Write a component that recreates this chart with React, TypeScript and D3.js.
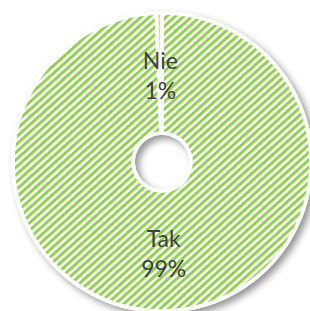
import React from "react";
import * as d3 from "d3";

const categories = ["Tak", "Nie"];
const values = [99.4, 0.6];
const labels = ["99%", "1%"];
const fills = ["url(#stripeGreen)", "url(#stripeOrange)"];

const W = 310;
const H = 311;
const cx = 162;
const cy = 162;
const outerR = 149;
const innerR = 29;

export default function App() {
  const pie = d3.pie<number>().sort(null).value((d) => d)(values);
  const arc = d3.arc<d3.PieArcDatum<number>>().innerRadius(innerR).outerRadius(outerR);
  const labelArc = d3
    .arc<d3.PieArcDatum<number>>()
    .innerRadius((innerR + outerR) / 2)
    .outerRadius((innerR + outerR) / 2);

  return (
    <svg
      width={W}
      height={H}
      style={{ position: "absolute", left: 0, top: 0, background: "#fff" }}
    >
      <defs>
        <pattern
          id="stripeGreen"
          patternUnits="userSpaceOnUse"
          width={10}
          height={5.6}
          patternTransform="rotate(-42)"
        >
          <rect width={10} height={5.6} fill="#ffffff" />
          <rect width={10} height={3} fill="#92d050" />
        </pattern>
        <pattern
          id="stripeOrange"
          patternUnits="userSpaceOnUse"
          width={10}
          height={5.6}
          patternTransform="rotate(-42)"
        >
          <rect width={10} height={5.6} fill="#fcd9a0" />
          <rect width={10} height={3} fill="#f9c46e" />
        </pattern>
        <filter id="shadow" x="-20%" y="-20%" width="140%" height="140%">
          <feDropShadow dx={4} dy={4} stdDeviation={3.5} floodColor="#000" floodOpacity={0.42} />
        </filter>
      </defs>
      <g transform={`translate(${cx},${cy})`}>
        <g filter="url(#shadow)">
          {pie.map((d, i) => (
            <path
              key={categories[i]}
              d={arc(d) || ""}
              fill={fills[i]}
              stroke="#ffffff"
              strokeWidth={3.7}
              strokeLinejoin="round"
            />
          ))}
        </g>
        {pie.map((d, i) => {
          const [x, y] = labelArc.centroid(d);
          return (
            <text
              key={"l" + categories[i]}
              x={x}
              y={y}
              textAnchor="middle"
              fill="#404040"
              fontFamily="Lato, 'Open Sans', sans-serif"
              fontSize={23}
            >
              <tspan x={x} dy={-4}>{categories[i]}</tspan>
              <tspan x={x} dy={30}>{labels[i]}</tspan>
            </text>
          );
        })}
      </g>
    </svg>
  );
}
